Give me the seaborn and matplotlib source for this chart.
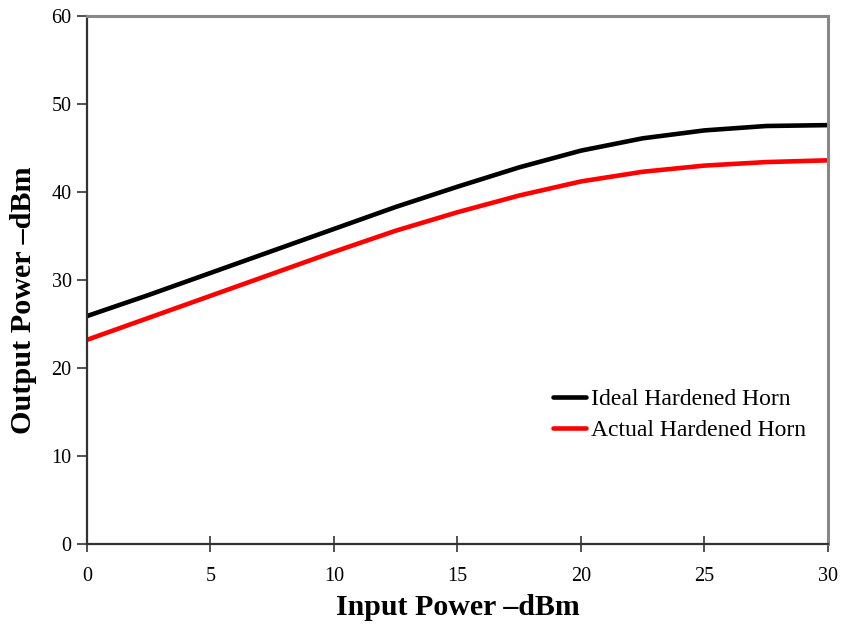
import numpy as np
import pandas as pd
import seaborn as sns
import matplotlib
matplotlib.use("Agg")
import matplotlib.pyplot as plt
from matplotlib.lines import Line2D

# Input drive levels (dBm)
input_dbm = [0, 2.5, 5, 7.5, 10, 12.5, 15, 17.5, 20, 22.5, 25, 27.5, 30]
# Output power for each horn (dBm)
ideal_dbm = [25.9, 28.3, 30.8, 33.3, 35.8, 38.3, 40.6, 42.8, 44.7, 46.1, 47.0, 47.5, 47.6]
actual_dbm = [23.2, 25.7, 28.2, 30.7, 33.2, 35.6, 37.7, 39.6, 41.2, 42.3, 43.0, 43.4, 43.6]

series_names = ["Ideal Hardened Horn", "Actual Hardened Horn"]
series_colors = ["#000000", "#ff0000"]

df = pd.DataFrame({
    "Input": input_dbm * 2,
    "Output": ideal_dbm + actual_dbm,
    "Series": [series_names[0]] * len(input_dbm) + [series_names[1]] * len(input_dbm),
})

sns.set_style("white")
plt.rcParams["font.family"] = ["Liberation Serif", "DejaVu Serif"]
plt.rcParams["text.color"] = "black"
plt.rcParams["axes.labelcolor"] = "black"
plt.rcParams["xtick.labelcolor"] = "black"
plt.rcParams["ytick.labelcolor"] = "black"

fig = plt.figure(figsize=(8.41, 6.25), dpi=100)
ax = fig.add_axes([0.1034, 0.1296, 0.8811, 0.8448])

sns.lineplot(data=df, x="Input", y="Output", hue="Series",
             palette=dict(zip(series_names, series_colors)),
             linewidth=3.3, ax=ax, legend=False)

ax.set_xlim(0, 30)
ax.set_ylim(0, 60)
ax.set_xticks(range(0, 31, 5))
ax.set_yticks(range(0, 61, 10))

for side in ["left", "bottom"]:
    ax.spines[side].set_color("#333333")
    ax.spines[side].set_linewidth(1.6)
for side in ["top", "right"]:
    ax.spines[side].set_visible(True)
    ax.spines[side].set_color("#888888")
    ax.spines[side].set_linewidth(2.2)

ax.tick_params(axis="y", direction="out", length=7, width=1.2, color="#333333",
               labelsize=14.5, pad=4, left=True, labelcolor="black")
ax.tick_params(axis="x", direction="inout", length=12, width=1.2, color="#333333",
               labelsize=14.5, pad=10.5, bottom=True, labelcolor="black")

ax.set_xlabel("Input Power \u2013dBm", fontsize=21.5, fontweight="bold", labelpad=6,
              color="black")
ax.set_ylabel("Output Power \u2013dBm", fontsize=21.7, fontweight="bold", color="black")
ax.yaxis.set_label_coords(-0.068, 0.462)

handles = [Line2D([0], [0], color=c, linewidth=3.3) for c in series_colors]
leg = ax.legend(handles, series_names, loc="upper left", bbox_to_anchor=(0.629, 0.294),
                frameon=False, fontsize=17, handlelength=1.4, handletextpad=0.2,
                labelspacing=0.38, borderpad=0, borderaxespad=0)
for t in leg.get_texts():
    t.set_color("black")

fig.savefig("out.png", dpi=100)
